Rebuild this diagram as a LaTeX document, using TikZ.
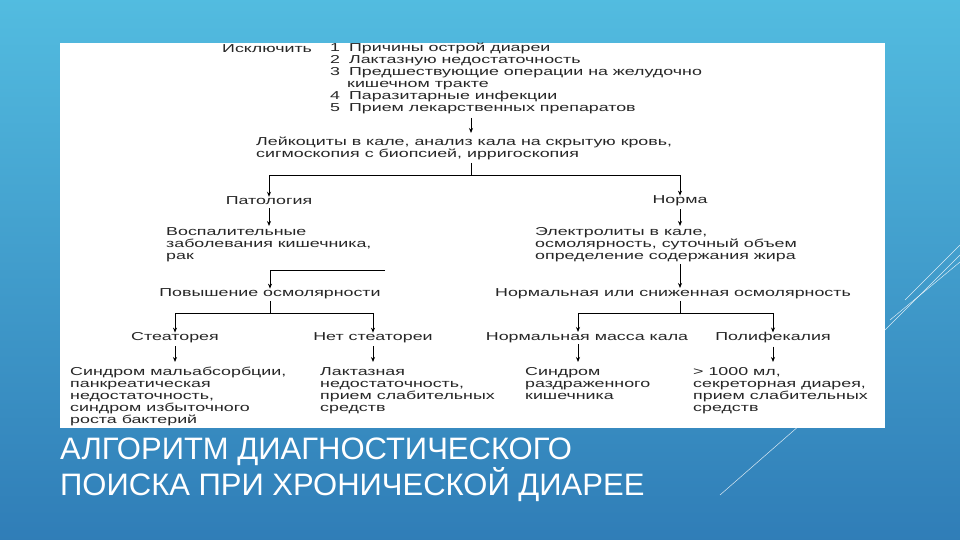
\documentclass[tikz,border=0pt]{standalone}
\usepackage{fontspec}
\setmainfont{Liberation Sans}
\newfontfamily\diagfont[FakeStretch=1.55]{Liberation Sans}
\usetikzlibrary{arrows.meta}
\definecolor{bgtop}{RGB}{92,205,235}
\definecolor{bgbot}{RGB}{38,108,172}
\begin{document}
\begin{tikzpicture}[x=1pt,y=-1pt,
  t/.style={font=\diagfont\fontsize{11.5}{12}\selectfont,inner sep=0pt,text=black!85},
  tl/.style={t,anchor=west,align=left},
  ln/.style={line width=1pt,black},
  ar/.style={ln,-{Stealth[length=5pt,width=4pt]}},
  deco/.style={white,line width=0.5pt,opacity=0.8}]
\useasboundingbox (0,0) rectangle (960,540);
\shade[shading angle=-30, top color=bgtop, bottom color=bgbot] (-150,-150) rectangle (1110,690);
\clip (0,0) rectangle (960,540);
\draw[deco] (885,330) -- (960,255); \draw[deco] (890,320) -- (960,262);
\draw[deco] (720,495) -- (800,425); \draw[deco] (905,300) -- (960,245);
\fill[white] (60,43) rectangle (885,428);
% top
\node[tl] (ex) at (222,49) {Исключить};
\node[tl,anchor=north west] (lst) at (330,43) {1\hspace{9pt}Причины острой диареи\\2\hspace{9pt}Лактазную недостаточность\\3\hspace{9pt}Предшествующие операции на желудочно\\\hspace{17pt}кишечном тракте\\4\hspace{9pt}Паразитарные инфекции\\5\hspace{9pt}Прием лекарственных препаратов};
\node[tl,anchor=north west] (lk) at (256,137) {Лейкоциты в кале, анализ кала на скрытую кровь,\\сигмоскопия с биопсией, ирригоскопия};
\coordinate (a1) at (471,118);
\draw[ar] (a1) -- (471,133);
\coordinate (b0) at (471,163);
\coordinate (b1) at (471,176);
\node[t] (pat) at (269,201) {Патология};
\node[t] (norm) at (680,201) {Норма};
\draw[ln] (b0) -- (b1);
\draw[ar] (b1) -| (pat.north);
\draw[ar] (b1) -| (norm.north);
\node[tl,anchor=north west] (vos) at (166,227) {Воспалительные\\заболевания кишечника,\\рак};
\node[tl,anchor=north west] (el) at (535,227) {Электролиты в кале,\\осмолярность, суточный объем\\определение содержания жира};
\draw[ar] (pat.south)++(0,3) -- (269,226);
\draw[ar] (norm.south)++(0,3) -- (680,226);
\node[t] (pov) at (270,294) {Повышение осмолярности};
\node[t] (nor) at (673,294) {Нормальная или сниженная осмолярность};
\coordinate (c1) at (385,270);
\draw[ar] (c1) -- (270,270) -- (pov.north);
\draw[ar] (680,264) -- (680,288);
% level 3
\node[t] (st) at (175,338) {Стеаторея};
\node[t] (nst) at (373,338) {Нет стеатореи};
\node[t] (nm) at (587,338) {Нормальная масса кала};
\node[t] (pf) at (773,338) {Полифекалия};
\coordinate (d1) at (270,313); \coordinate (e1) at (680,313);
\draw[ln] (pov.south)++(0,2) -- (d1);
\draw[ar] (d1) -| (st.north);
\draw[ar] (d1) -| (nst.north);
\draw[ln] (nor.south)++(7,2) -- (e1);
\draw[ar] (e1) -| (578,332);
\draw[ar] (e1) -| (pf.north);
\foreach \n/\x in {st/175,nst/373,pf/773} \draw[ar] (\n.south)++(0,3) -- (\x,362);
\draw[ar] (578,344) -- (578,362);
\node[tl,anchor=north west] (f1) at (70,367) {Синдром мальабсорбции,\\панкреатическая\\недостаточность,\\синдром избыточного\\роста бактерий};
\node[tl,anchor=north west] (f2) at (320,367) {Лактазная\\недостаточность,\\прием слабительных\\средств};
\node[tl,anchor=north west] (f3) at (525,367) {Синдром\\раздраженного\\кишечника};
\node[tl,anchor=north west] (f4) at (693,367) {> 1000 мл,\\секреторная диарея,\\прием слабительных\\средств};
\node[anchor=north west,inner sep=0pt,text=white,align=left,font=\fontsize{31}{36}\selectfont] (title) at (60,438) {АЛГОРИТМ ДИАГНОСТИЧЕСКОГО\\ПОИСКА ПРИ ХРОНИЧЕСКОЙ ДИАРЕЕ};
\end{tikzpicture}
\end{document}
